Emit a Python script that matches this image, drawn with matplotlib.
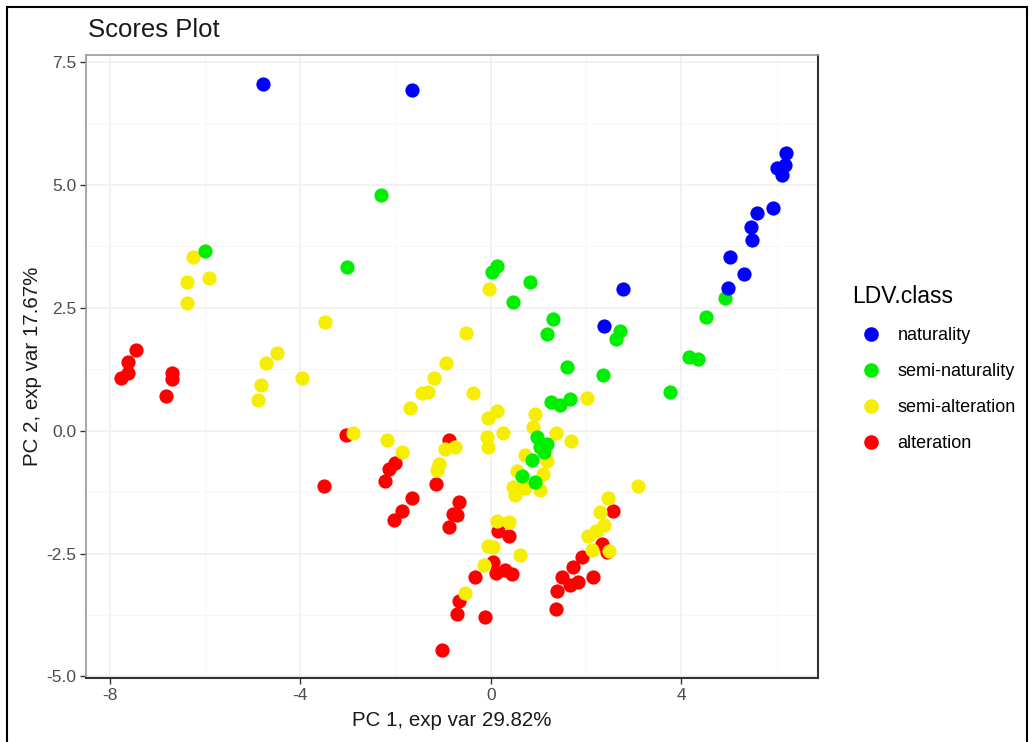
import matplotlib
matplotlib.use("Agg")
import matplotlib.pyplot as plt
from matplotlib.lines import Line2D
from matplotlib.patches import Rectangle

plt.rcParams['font.family'] = ['Liberation Sans', 'DejaVu Sans']
plt.rcParams['axes.unicode_minus'] = False

# PCA scores
nat_x = [-4.79, -1.66, 6.20, 6.01, 6.18, 6.11, 5.92, 5.59, 5.46, 5.48, 5.02, 5.32, 4.98, 2.77, 2.37]
nat_y = [7.05, 6.93, 5.65, 5.35, 5.41, 5.20, 4.53, 4.43, 4.15, 3.88, 3.54, 3.19, 2.89, 2.87, 2.13]

semnat_x = [-6.01, -2.31, -3.03, 0.02, 0.13, 0.82, 0.46, 1.30, 1.18, 1.60, 1.26, 1.45, 1.66,
            0.97, 1.18, 1.03, 1.11, 0.86, 0.65, 0.92, 2.71, 2.63, 2.35, 4.52, 4.92, 4.16, 4.35, 3.76]
semnat_y = [3.66, 4.80, 3.33, 3.23, 3.35, 3.03, 2.62, 2.26, 1.97, 1.30, 0.59, 0.53, 0.65,
            -0.14, -0.28, -0.33, -0.43, -0.59, -0.93, -1.04, 2.03, 1.87, 1.14, 2.32, 2.70, 1.50, 1.46, 0.79]

semalt_x = [-6.26, -6.39, -5.92, -6.37, -3.49, -4.50, -4.73, -4.83, -4.89, -3.97,
            -0.04, -0.53, -0.95, -1.20, -1.32, -1.45, -1.70, -0.38, 0.13, -0.06,
            0.25, 0.92, 0.88, 1.37, 1.68, 2.02, -2.90, -2.18, -1.87, -0.97,
            -0.76, -0.08, -0.06, -1.09, -1.13, 0.71, 1.18, 0.55, 1.09, 0.46,
            0.71, 1.03, 0.50, 0.13, 0.38, -0.06, 0.04, 0.61, -0.15, -0.55,
            3.09, 2.46, 2.29, 2.37, 2.21, 2.04, 2.12, 2.48]
semalt_y = [3.54, 3.03, 3.11, 2.60, 2.20, 1.57, 1.38, 0.93, 0.63, 1.06,
            2.87, 1.99, 1.38, 1.06, 0.79, 0.77, 0.45, 0.77, 0.39, 0.26,
            -0.04, 0.33, 0.08, -0.04, -0.22, 0.67, -0.04, -0.20, -0.43, -0.37,
            -0.33, -0.14, -0.33, -0.67, -0.81, -0.49, -0.61, -0.83, -0.89, -1.14,
            -1.16, -1.20, -1.30, -1.83, -1.85, -2.34, -2.36, -2.52, -2.74, -3.31,
            -1.12, -1.38, -1.65, -1.91, -2.05, -2.15, -2.42, -2.44]

alt_x = [-7.46, -7.61, -7.61, -7.77, -6.70, -6.70, -6.83, -3.51, -3.05, -0.88,
         -2.02, -2.14, -2.23, -1.16, -1.66, -1.87, -2.04, -0.67, -0.80, -0.71,
         -0.88, 0.15, 0.38, 0.04, 0.11, 0.29, 0.44, -0.34, -0.67, -0.71,
         -0.13, -1.03, 1.91, 1.72, 1.49, 1.39, 1.66, 1.83, 1.37, 2.56,
         2.33, 2.44, 2.14]
alt_y = [1.63, 1.40, 1.18, 1.06, 1.18, 1.04, 0.71, -1.12, -0.08, -0.20,
         -0.65, -0.79, -1.02, -1.08, -1.38, -1.63, -1.81, -1.46, -1.69, -1.71,
         -1.95, -2.05, -2.15, -2.68, -2.89, -2.83, -2.91, -2.97, -3.46, -3.72,
         -3.80, -4.47, -2.56, -2.78, -2.97, -3.27, -3.13, -3.07, -3.62, -1.63,
         -2.30, -2.46, -2.97]

classes = ['naturality', 'semi-naturality', 'semi-alteration', 'alteration']
colors = ['#0000FF', '#00EE00', '#F5EE00', '#FF0000']

fig = plt.figure(figsize=(10.34, 7.42), dpi=100)
ax = fig.add_axes([0.0832, 0.0863, 0.7079, 0.8397])

# drawing order: red first, blue on top
ax.scatter(alt_x, alt_y, s=105, color=colors[3], linewidths=0, zorder=3)
ax.scatter(semalt_x, semalt_y, s=105, color=colors[2], linewidths=0, zorder=3)
ax.scatter(semnat_x, semnat_y, s=105, color=colors[1], linewidths=0, zorder=3)
ax.scatter(nat_x, nat_y, s=105, color=colors[0], linewidths=0, zorder=3)

ax.set_xlim(-8.5, 6.87)
ax.set_ylim(-5.03, 7.64)
ax.set_xticks([-8, -4, 0, 4])
ax.set_xticklabels(['-8', '-4', '0', '4'])
ax.set_yticks([-5, -2.5, 0, 2.5, 5, 7.5])
ax.set_yticklabels(['-5.0', '-2.5', '0.0', '2.5', '5.0', '7.5'])
ax.set_xticks([-6, -2, 2, 6], minor=True)
ax.set_yticks([-3.75, -1.25, 1.25, 3.75, 6.25], minor=True)
ax.grid(True, which='major', color='#EFEFEF', linewidth=1.1, zorder=0)
ax.grid(True, which='minor', color='#F6F6F6', linewidth=0.6, zorder=0)
ax.set_axisbelow(True)
ax.tick_params(which='major', direction='out', length=4, width=1, color='#333333',
               labelsize=12.5, labelcolor='#4D4D4D', pad=3)
ax.tick_params(which='minor', length=0)

for side in ['top', 'left']:
    ax.spines[side].set_color('#9A9A9A')
    ax.spines[side].set_linewidth(1.2)
for side in ['bottom', 'right']:
    ax.spines[side].set_color('#333333')
    ax.spines[side].set_linewidth(1.5)

ax.set_xlabel('PC 1, exp var 29.82%', fontsize=14.8, color='#1a1a1a', labelpad=6)
ax.set_ylabel('PC 2, exp var 17.67%', fontsize=14.8, color='#1a1a1a', labelpad=3)
fig.text(0.085, 0.96, 'Scores Plot', fontsize=18.5, color='#1a1a1a', va='center', ha='left')

handles = [Line2D([], [], marker='o', linestyle='', markersize=10.5,
                  markerfacecolor=c, markeredgewidth=0) for c in colors]
leg = fig.legend(handles, classes, title='LDV.class', loc='upper left',
                 bbox_to_anchor=(0.8175, 0.625), frameon=False, fontsize=13,
                 title_fontsize=16.5, labelspacing=1.05, handletextpad=0.5,
                 borderaxespad=0)
leg._legend_box.align = 'left'

# black frame of the screenshot
fig.patches.append(Rectangle((7 / 1034, -0.02), 1020 / 1034, 1 - 7 / 742 + 0.02,
                             transform=fig.transFigure, fill=False,
                             edgecolor='black', linewidth=1.5))

plt.savefig('out.png', dpi=100)
